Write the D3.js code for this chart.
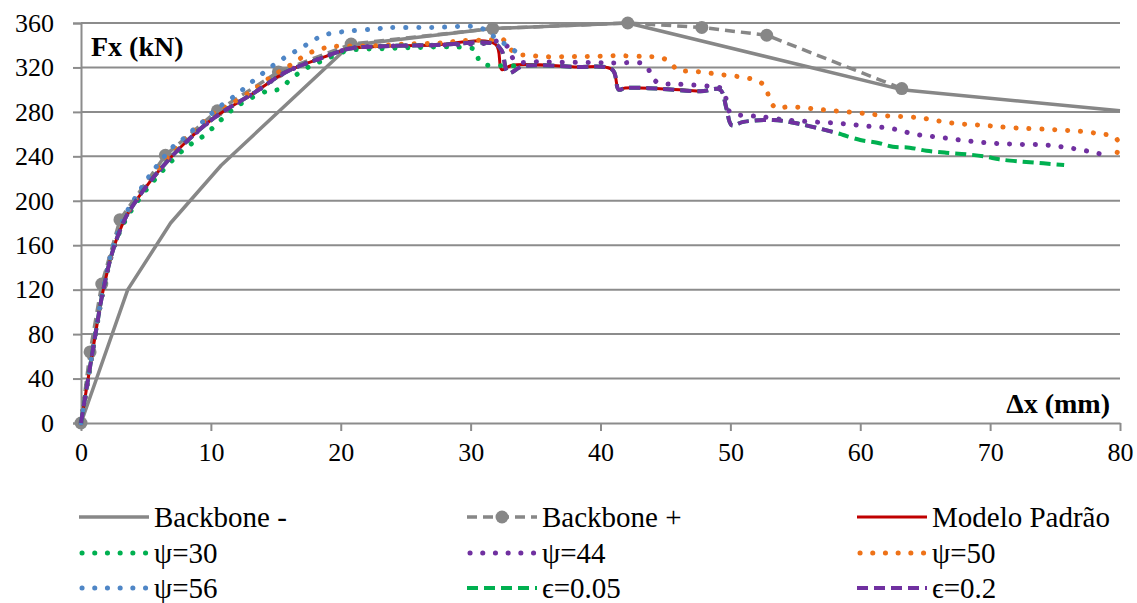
<!DOCTYPE html>
<html><head><meta charset="utf-8">
<script src="https://cdn.jsdelivr.net/npm/d3@7"></script>
<style>
body{margin:0;background:#fff}
</style>
</head><body>
<svg id="c" width="1137" height="603" style="font-family:'Liberation Serif','DejaVu Serif',serif"></svg>
<script>
// ---------- data ----------
const xTicks = [0,10,20,30,40,50,60,70,80];
const yTicks = [0,40,80,120,160,200,240,280,320,360];
const seriesNames = ["Backbone -","Backbone +","Modelo Padrão","ψ=30","ψ=44","ψ=50","ψ=56","ϵ=0.05","ϵ=0.2"];

const backboneMinus = [[0,0],[3.6,120],[6.9,180],[10.8,232],[20.7,340],[31.7,355],[42.1,360],[63.2,300],[80,281]];
const backbonePlus = [[0,0],[0.7,64],[1.6,125],[3.0,183],[6.5,241],[10.5,281],[15.2,316],[20.8,341],[31.7,355],[42.1,360],[47.8,356],[52.8,349],[63.2,301]];
const modeloPadrao = [[0,0],[0.55,40],[1.1,79],[1.7,119],[2.5,157],[3.4,184],[4.3,201],[5.3,217],[6.3,231],[8.0,252],[10.4,276],[13.3,297],[15.8,316],[18.4,328],[20.7,337],[23,339],[27,340],[31.9,341],[32.4,318],[33.2,322],[38,320.5],[40.9,318],[41.4,300],[41.9,301.5],[44.3,301],[47.7,298.5]];
const psi30 = [[0,0],[0.55,40],[1.1,79],[1.7,119],[2.5,157],[3.4,182],[5.1,211],[7.9,246],[9.5,259],[12,285],[14.4,299],[15.3,300.5],[16.1,309],[16.9,316],[17.8,322],[18.7,326.5],[20.5,335],[23.4,337],[26,338],[28.4,338.5],[29.4,338],[30.4,335.7],[30.7,324.6],[31.5,321.6],[32.4,321.6],[33.4,321.6]];
const psi44 = [[0,0],[0.55,40],[1.1,79],[1.7,119],[2.5,157],[3.4,184],[4.3,201],[5.3,217],[6.3,231],[8.0,252],[10.4,276],[13.3,297],[15.8,316],[18.4,328],[20.7,337],[23,339],[27,340],[30,341],[31.5,342],[32.3,344],[33,336],[33.4,326],[35.3,325.2],[38.4,324.5],[41,324],[43.4,322.8],[43.9,313.7],[44.4,306.3],[46,305],[48.4,303],[49.3,301],[49.7,290.7],[50,279.3],[51.4,276.6],[52.4,275.7],[54.3,272.7],[56.4,271],[58.4,269.7],[60.4,267.3],[62.4,265],[64.3,259.7],[66.3,256.8],[68.3,253.8],[70.3,251.7],[72.3,250.8],[74.3,250.2],[76.3,247.2],[78.3,242.7],[79.2,239.7]];
const psi50 = [[0,0],[0.55,40],[1.1,80],[1.7,121],[2.5,159],[3.4,186],[4.5,206],[6.3,234],[8,256],[10.4,280],[11.5,287],[13.3,300],[14.8,313],[15.7,319],[16.5,325],[17.4,332],[18.3,336],[19.3,338.7],[22.5,339.5],[25,341],[27.6,342],[29.3,344],[31.4,344.7],[32.4,346],[32.9,339],[33.5,332],[34.4,331.2],[35.5,329.7],[37.6,329.7],[39.5,330],[41.5,330.5],[43.5,329.7],[44.6,329],[45.3,325.2],[46,317.1],[46.9,316.8],[48.9,314.1],[51.9,308.7],[52.7,302.7],[53,292.2],[53.5,283.5],[54.5,284.7],[57,282],[60,279],[62,276.5],[64.5,274.8],[67,270],[69.5,267.9],[72,265.5],[75,264],[77.5,261.9],[78.5,260],[79.5,258.3],[79.9,251.7],[79.7,240.6]];
const psi56 = [[0,0],[0.55,40],[1.1,80],[1.7,121],[2.5,160],[3.4,187],[4.3,205],[5.5,226],[7.2,250],[8.1,257.7],[8.9,266.7],[9.7,274.2],[10.4,282.2],[12,295.8],[13.5,310.2],[15.2,325.2],[16.9,337.2],[18.7,349],[20.7,352.8],[22.6,354.6],[23.7,355.8],[27,356],[30.7,356],[31.4,350.7],[32.2,344.7],[33,338],[33.8,332]];
const eps005 = [[0,0],[0.55,40],[1.1,79],[1.7,119],[2.5,157],[3.4,184],[4.3,201],[5.3,217],[6.3,231],[8.0,252],[10.4,276],[13.3,297],[15.8,316],[18.4,328],[20.7,337],[23,339],[27,340],[31.9,341],[32.4,335],[32.9,315],[34,321],[38,320.5],[40.9,318],[41.4,300],[41.9,301.5],[44.3,301],[47.7,298.5],[49.2,300],[49.7,283],[50.1,268],[51,271],[53.3,272.7],[55.4,269],[58.2,261],[58.7,259.2],[60,254.7],[61.3,252.3],[62.5,248.7],[63.8,247.8],[65.1,245],[66.6,243.3],[68.2,241.8],[69.7,239.7],[70.7,237.3],[72.5,235.2],[74.1,233.7],[75.7,232.2]];
const eps02 = [[0,0],[0.55,40],[1.1,79],[1.7,119],[2.5,157],[3.4,184],[4.3,201],[5.3,217],[6.3,231],[8.0,252],[10.4,276],[13.3,297],[15.8,316],[18.4,328],[20.7,337],[23,339],[27,340],[31.9,341],[32.4,335],[32.9,315],[34,321],[38,320.5],[40.9,318],[41.4,300],[41.9,301.5],[44.3,301],[47.7,298.5],[49.2,300],[49.7,283],[50.1,268],[51,271],[53.3,272.7],[55.4,269],[58.2,261]];

// ---------- chart ----------
const FONT = "'Liberation Serif','DejaVu Serif',serif";
const svg = d3.select("#c");
const x = d3.scaleLinear().domain([0,80]).range([81,1120]);
const y = d3.scaleLinear().domain([0,360]).range([423,23]);
const grid = "#8c8c8c";

// gridlines
svg.append("g").selectAll("line").data(yTicks.filter(d=>d>0)).join("line")
  .attr("x1",x(0)).attr("x2",x(80)).attr("y1",d=>y(d)).attr("y2",d=>y(d))
  .attr("stroke",grid).attr("stroke-width",2);

// y axis
const ya = svg.append("g").attr("transform",`translate(${x(0)},0)`)
  .call(d3.axisLeft(y).tickValues(yTicks).tickSize(8).tickPadding(19).tickFormat(d3.format("d")));
ya.attr("font-family",null).attr("font-size",null);
ya.select(".domain").attr("stroke",grid).attr("stroke-width",2);
ya.selectAll(".tick line").attr("stroke",grid).attr("stroke-width",2);
ya.selectAll("text").style("font-family",FONT).style("font-size","26px").attr("fill","#000");

// x axis
const xa = svg.append("g").attr("transform",`translate(0,${y(0)})`)
  .call(d3.axisBottom(x).tickValues(xTicks).tickSize(8).tickSizeOuter(0).tickPadding(12).tickFormat(d3.format("d")));
xa.attr("font-family",null).attr("font-size",null);
xa.select(".domain").attr("stroke",grid).attr("stroke-width",2);
xa.selectAll(".tick line").attr("stroke",grid).attr("stroke-width",2);
xa.selectAll("text").style("font-family",FONT).style("font-size","26px").attr("fill","#000");

// axis titles
svg.append("text").attr("x",91).attr("y",56).style("font-family",FONT).style("font-size","28px").attr("font-weight","bold").text("Fx (kN)");
svg.append("text").attr("x",1110).attr("y",413).attr("text-anchor","end").style("font-family",FONT).style("font-size","28px").attr("font-weight","bold").text("Δx (mm)");

const dotDash = "0.1 12.8";
const smooth = d3.curveCatmullRom.alpha(0.5);
const styles = [
  {data:backboneMinus, color:"#878787", w:3.5, dash:null, cap:"butt", curve:d3.curveLinear},
  {data:backbonePlus, color:"#878787", w:3.5, dash:"10 6", cap:"butt", curve:d3.curveLinear, marker:true},
  {data:modeloPadrao, color:"#C00000", w:3, dash:null, cap:"butt", curve:smooth},
  {data:psi30, color:"#00B050", w:5, dash:dotDash, cap:"round", curve:smooth},
  {data:psi44, color:"#7030A0", w:5, dash:dotDash, cap:"round", curve:smooth},
  {data:psi50, color:"#EE7218", w:5, dash:dotDash, cap:"round", curve:smooth},
  {data:psi56, color:"#4F86C6", w:5, dash:dotDash, cap:"round", curve:smooth},
  {data:eps005, color:"#00B050", w:4, dash:"11 6", cap:"butt", curve:smooth},
  {data:eps02, color:"#7030A0", w:4, dash:"11 6", cap:"butt", curve:smooth}
];

const plot = svg.append("g");
styles.forEach(s=>{
  const line = d3.line().x(d=>x(d[0])).y(d=>y(d[1])).curve(s.curve);
  plot.append("path").attr("d",line(s.data)).attr("fill","none")
    .attr("stroke",s.color).attr("stroke-width",s.w)
    .attr("stroke-dasharray",s.dash).attr("stroke-linecap",s.cap).attr("stroke-linejoin","round");
  if(s.marker){
    plot.append("g").selectAll("circle").data(s.data).join("circle")
      .attr("cx",d=>x(d[0])).attr("cy",d=>y(d[1])).attr("r",6.5).attr("fill",s.color);
  }
});

// legend
const colX = [79,467,857];
const rowY = [517,553,588];
const leg = svg.append("g");
styles.forEach((s,i)=>{
  const cx = colX[i%3], cy = rowY[Math.floor(i/3)];
  leg.append("line").attr("x1",cx+(s.cap==="round"?3:0)).attr("x2",cx+70).attr("y1",cy).attr("y2",cy)
    .attr("stroke",s.color).attr("stroke-width",s.w)
    .attr("stroke-dasharray",s.dash? (s.cap==="round"?"0.1 12.6":s.dash):null)
    .attr("stroke-linecap",s.cap);
  if(s.marker) leg.append("circle").attr("cx",cx+35).attr("cy",cy).attr("r",6.5).attr("fill",s.color);
  leg.append("text").attr("x",cx+75).attr("y",cy+10).style("font-family",FONT).style("font-size","29px").text(seriesNames[i]);
});
</script>
</body></html>
